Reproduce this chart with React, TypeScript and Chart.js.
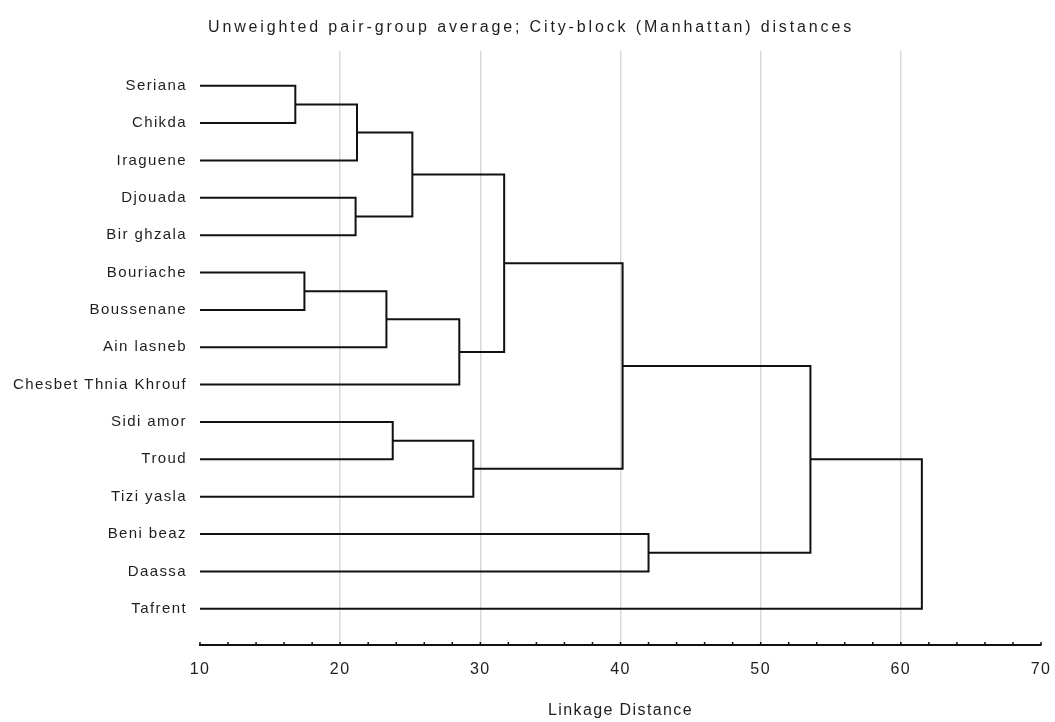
import React, { useEffect, useRef } from 'react';
import { Chart, registerables } from 'chart.js';

Chart.register(...registerables);

// ---------- data ----------
const titleText = 'Unweighted pair-group average; City-block (Manhattan) distances';
const xAxisTitle = 'Linkage Distance';

const leafNames = [
  'Seriana',
  'Chikda',
  'Iraguene',
  'Djouada',
  'Bir ghzala',
  'Bouriache',
  'Boussenane',
  'Ain lasneb',
  'Chesbet Thnia Khrouf',
  'Sidi amor',
  'Troud',
  'Tizi yasla',
  'Beni beaz',
  'Daassa',
  'Tafrent',
];

// leaves start at the left end of the distance axis
const leafStart = 10;

// merges: node ids 0..14 are leaves, merge k creates node 15 + k
const mergeLeft = [0, 15, 3, 16, 5, 19, 20, 18, 9, 23, 22, 12, 25, 27];
const mergeRight = [1, 2, 4, 17, 6, 7, 8, 21, 10, 11, 24, 13, 26, 14];
const mergeHeight = [16.8, 21.2, 21.1, 25.15, 17.45, 23.3, 28.5, 31.7, 23.75, 29.5, 40.15, 42.0, 53.55, 61.5];

const xMin = 10;
const xMax = 70;
const xMinorStep = 2;
const xLabelStep = 10;

// ---------- styles ----------
const FONT = '"Liberation Sans", Arial, sans-serif';
const TEXT = '#1e1e1e';
const LINE = '#111111';
const SPACING = '1.4px';

function buildDatasets() {
  const nodeX: number[] = leafNames.map(() => leafStart);
  const nodeY: number[] = leafNames.map((_, i) => i);
  return mergeHeight.map((h, k) => {
    const a = mergeLeft[k];
    const b = mergeRight[k];
    const data = [
      { x: nodeX[a], y: nodeY[a] },
      { x: h, y: nodeY[a] },
      { x: h, y: nodeY[b] },
      { x: nodeX[b], y: nodeY[b] },
    ];
    nodeX.push(h);
    nodeY.push((nodeY[a] + nodeY[b]) / 2);
    return {
      label: 'link ' + k,
      data,
      showLine: true,
      borderColor: LINE,
      backgroundColor: LINE,
      borderWidth: 2,
      pointRadius: 0,
      pointHoverRadius: 0,
      tension: 0,
      fill: false,
      borderJoinStyle: 'miter' as const,
      borderCapStyle: 'butt' as const,
    };
  });
}

const spacingPlugin = {
  id: 'letterSpacing',
  beforeUpdate(chart: any) {
    chart.ctx.letterSpacing = SPACING;
  },
  beforeLayout(chart: any) {
    chart.ctx.letterSpacing = SPACING;
  },
  beforeDraw(chart: any) {
    chart.ctx.letterSpacing = SPACING;
  },
};

const innerTicksPlugin = {
  id: 'innerTicks',
  afterDatasetsDraw(chart: any) {
    const xs = chart.scales.x;
    const ctx = chart.ctx;
    ctx.save();
    ctx.strokeStyle = LINE;
    ctx.lineWidth = 1.5;
    xs.ticks.forEach((_t: any, i: number) => {
      const px = xs.getPixelForTick(i);
      ctx.beginPath();
      ctx.moveTo(px, xs.top);
      ctx.lineTo(px, xs.top - 3);
      ctx.stroke();
    });
    ctx.restore();
  },
};

const titlePlugin = {
  id: 'stretchedTitle',
  afterDraw(chart: any) {
    const ctx = chart.ctx;
    const targetWidth = 646;
    ctx.save();
    ctx.font = '16px ' + FONT;
    ctx.letterSpacing = '0px';
    const w = ctx.measureText(titleText).width;
    ctx.letterSpacing = Math.max(0, (targetWidth - w) / titleText.length) + 'px';
    ctx.fillStyle = TEXT;
    ctx.textAlign = 'center';
    ctx.textBaseline = 'middle';
    ctx.fillText(titleText, 531, 28);
    ctx.restore();
  },
};

export default function App() {
  const canvasRef = useRef<HTMLCanvasElement | null>(null);

  useEffect(() => {
    const canvas = canvasRef.current;
    if (!canvas) return;
    const chart = new Chart(canvas, {
      type: 'scatter',
      data: { datasets: buildDatasets() as any },
      options: {
        animation: false,
        responsive: false,
        devicePixelRatio: 1,
        events: [],
        layout: { padding: { top: 51, right: 14, bottom: 0, left: 0 } },
        plugins: {
          legend: { display: false },
          tooltip: { enabled: false },
          title: { display: false },
        },
        scales: {
          x: {
            type: 'linear',
            position: 'bottom',
            min: xMin,
            max: xMax,
            ticks: {
              stepSize: xMinorStep,
              autoSkip: false,
              maxRotation: 0,
              minRotation: 0,
              padding: 15,
              color: TEXT,
              font: { family: FONT, size: 16 },
              callback: (v: any) => (Number(v) % xLabelStep === 0 ? String(v) : ''),
            },
            grid: {
              drawTicks: false,
              lineWidth: 1.5,
              color: (c: any) => {
                const v = c.tick ? c.tick.value : NaN;
                return v % xLabelStep === 0 && v > xMin && v < xMax ? '#d9d9d9' : 'rgba(0,0,0,0)';
              },
            },
            border: { display: true, color: LINE, width: 2 },
            title: {
              display: true,
              text: xAxisTitle,
              color: TEXT,
              font: { family: FONT, size: 16 },
              padding: { top: 0, bottom: 2 },
            },
            afterFit: (s: any) => {
              s.height = 77;
              s.paddingLeft = 0;
              s.paddingRight = 0;
            },
          } as any,
          y: {
            type: 'linear',
            reverse: true,
            min: -0.93,
            max: 14.97,
            afterBuildTicks: (s: any) => {
              s.ticks = leafNames.map((_, i) => ({ value: i }));
            },
            ticks: {
              autoSkip: false,
              padding: 13,
              color: TEXT,
              font: { family: FONT, size: 15 },
              callback: (v: any) => leafNames[Number(v)] ?? '',
            },
            grid: { display: false, drawTicks: false },
            border: { display: false },
            afterFit: (s: any) => {
              s.width = 200;
            },
          } as any,
        },
      },
      plugins: [spacingPlugin, innerTicksPlugin, titlePlugin],
    });
    return () => chart.destroy();
  }, []);

  return (
    <div style={{ position: 'fixed', left: 0, top: 0, width: 1055, height: 722, background: '#ffffff' }}>
      <canvas ref={canvasRef} width={1055} height={722} style={{ display: 'block' }} />
    </div>
  );
}
